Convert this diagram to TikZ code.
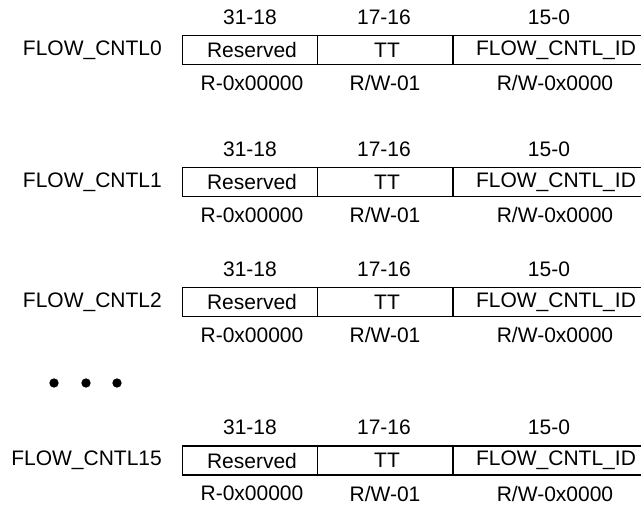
\documentclass[tikz,border=0pt]{standalone}
\usepackage{fontspec}
\setmainfont{Liberation Sans}
\begin{document}
\begin{tikzpicture}[x=1pt,y=-1pt,
  txt/.style={inner sep=0pt,font=\fontsize{21}{24}\selectfont},
  regname/.style={txt,anchor=east},
  boxline/.style={line width=1.9pt},
  dot/.style={fill=black,draw=none,circle,inner sep=0pt,minimum size=9.3pt}]
\useasboundingbox (0,0) rectangle (641,506);
\clip (0,0) rectangle (641,506);
\foreach \i/\y/\lab in {0/50/FLOW\_CNTL0,1/182/FLOW\_CNTL1,2/302/FLOW\_CNTL2,3/460.5/FLOW\_CNTL15}{
  \node[regname] (name\i) at (162,\y) {\lab};
  \coordinate (tl\i) at (182.5,\y-14.5);
  \coordinate (bl\i) at (182.5,\y+14.5);
  \coordinate (tr\i) at (660,\y-14.5);
  \coordinate (br\i) at (660,\y+14.5);
  \coordinate (d1t\i) at (317.5,\y-14.5);
  \coordinate (d1b\i) at (317.5,\y+14.5);
  \coordinate (d2t\i) at (453,\y-14.5);
  \coordinate (d2b\i) at (453,\y+14.5);
  \draw[boxline] (tr\i) -- (tl\i) -- (bl\i) -- (br\i);
  \draw[boxline] (d1t\i) -- (d1b\i);
  \draw[boxline] (d2t\i) -- (d2b\i);
  \node[txt] (res\i) at (252,\y) {Reserved};
  \node[txt] (tt\i) at (387,\y) {TT};
  \node[txt] (id\i) at (556,\y) {FLOW\_CNTL\_ID};
  \node[txt] (h1\i) at (250,\y-33) {31-18};
  \node[txt] (h2\i) at (384,\y-33) {17-16};
  \node[txt] (h3\i) at (549,\y-33) {15-0};
  \node[txt] (a1\i) at (252,\y+33) {R-0x00000};
  \node[txt] (a2\i) at (385,\y+33) {R/W-01};
  \node[txt] (a3\i) at (555,\y+33) {R/W-0x0000};
}
\node[dot] (dot1) at (54,383) {};
\node[dot] (dot2) at (86,383) {};
\node[dot] (dot3) at (117,383) {};
\end{tikzpicture}
\end{document}
